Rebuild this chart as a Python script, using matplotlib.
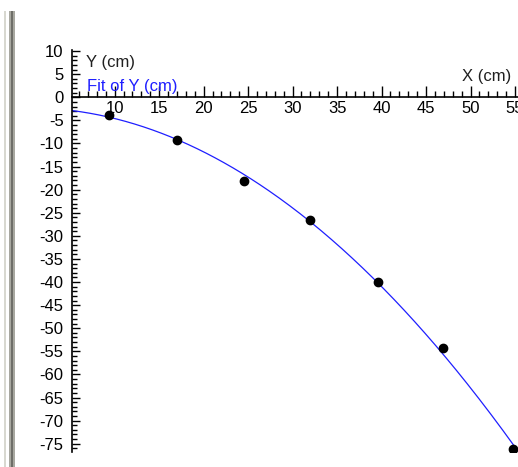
import numpy as np
import matplotlib
matplotlib.use("Agg")
import matplotlib.pyplot as plt
from matplotlib.ticker import MultipleLocator
from matplotlib.patches import Rectangle
from matplotlib import font_manager

# Data
x_cm = [9.4, 17.0, 24.5, 32.0, 39.6, 46.9, 54.8]
y_cm = [-3.8, -9.2, -18.1, -26.6, -40.0, -54.3, -76.1]

names = {f.name for f in font_manager.fontManager.ttflist}
narrow = 'Liberation Sans Narrow' in names
print('narrow available:', narrow)
plt.rcParams['font.family'] = (['Liberation Sans Narrow'] if narrow else []) + ['Liberation Sans', 'DejaVu Sans']
plt.rcParams['axes.unicode_minus'] = False
fs = 14 if narrow else 12

W, H = 518, 467
fig = plt.figure(figsize=(W / 100, H / 100), dpi=100)
fig.patch.set_facecolor('white')

# window border on the left
fig.patches.append(Rectangle((4 / W, 0), 2 / W, (H - 11) / H, transform=fig.transFigure,
                             facecolor='#d8d8d0', edgecolor='none'))
fig.patches.append(Rectangle((9 / W, 0), 6 / W, (H - 11) / H, transform=fig.transFigure,
                             facecolor='#a8a8a0', edgecolor='none'))
fig.patches.append(Rectangle((11 / W, 0), 2 / W, (H - 11) / H, transform=fig.transFigure,
                             facecolor='#6e6e68', edgecolor='none'))

ax_left, ax_right = 72, 518
ax_top, ax_bot = 50, 452
ax = fig.add_axes([ax_left / W, (H - ax_bot) / H, (ax_right - ax_left) / W, (ax_bot - ax_top) / H])
ax.set_facecolor('none')

xmin, xmax = 5.2, 55.34
ymin, ymax = -76.8, 10.24

# quadratic fit of Y vs X
coef = np.polyfit(x_cm, y_cm, 2)
xf = np.linspace(xmin, 55.3, 300)
yf = np.polyval(coef, xf)
ax.plot(xf, yf, color='#1f1fff', lw=0.9, zorder=2)
ax.plot(x_cm, y_cm, 'o', color='black', ms=6, zorder=3)

for s in ['top', 'right']:
    ax.spines[s].set_visible(False)
ax.spines['bottom'].set_position(('data', 0))
ax.spines['bottom'].set_linewidth(1.2)
ax.spines['left'].set_linewidth(1.2)

ax.xaxis.set_major_locator(MultipleLocator(5))
ax.xaxis.set_minor_locator(MultipleLocator(1))
ax.yaxis.set_major_locator(MultipleLocator(5))
ax.yaxis.set_minor_locator(MultipleLocator(1))

ax.tick_params(axis='x', which='major', direction='in', length=8, width=1, pad=3, labelsize=fs)
ax.tick_params(axis='x', which='minor', direction='in', length=4, width=1)
ax.tick_params(axis='y', which='major', direction='in', length=6, width=1, pad=6, labelsize=fs)
ax.tick_params(axis='y', which='minor', direction='in', length=3.5, width=1)

ax.set_xticks([t for t in range(10, 60, 5)])
ax.set_yticks([t for t in range(-75, 15, 5)])
ax.set_xlim(xmin, xmax)
ax.set_ylim(ymin, ymax)

fig.text(86 / W, 1 - 63 / H, 'Y (cm)', fontsize=fs, color='#202020', va='center', ha='left')
fig.text(87 / W, 1 - 86 / H, 'Fit of Y (cm)', fontsize=fs, color='#1f1fff', va='center', ha='left')
fig.text(462 / W, 1 - 76 / H, 'X (cm)', fontsize=fs, color='#202020', va='center', ha='left')

fig.savefig('out.png', dpi=100, facecolor='white')
